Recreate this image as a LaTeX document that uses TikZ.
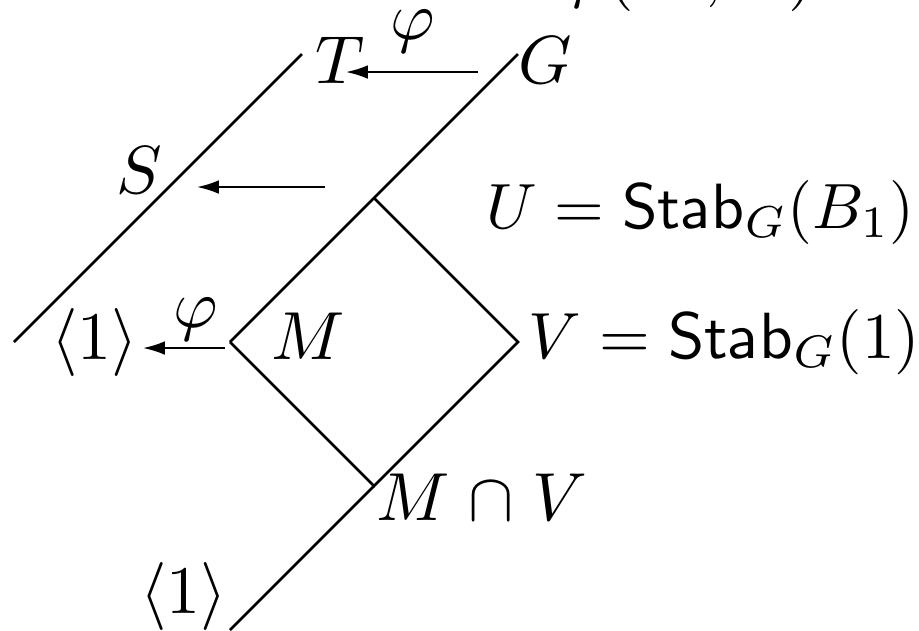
\documentclass[tikz,border=0pt]{standalone}
\usetikzlibrary{arrows.meta}
\begin{document}
\begin{tikzpicture}[x=0.147pt,y=-0.147pt,
  edge/.style={line width=0.4pt},
  maparrow/.style={line width=0.3pt,-{Latex[length=3.2pt,width=2pt]}},
  lbl/.style={inner sep=0pt,anchor=base west},
  philbl/.style={inner sep=0pt,anchor=base}]
\path[use as bounding box] (0,0) rectangle (919,630);
\clip (0,0) rectangle (919,630);
% vertices
\coordinate (Ltop) at (302,54);
\coordinate (Lbot) at (14,342);
\coordinate (Gtop) at (518,54);
\coordinate (Dtop) at (374,198);
\coordinate (Dleft) at (230,342);
\coordinate (Dright) at (518,342);
\coordinate (Dbot) at (374,486);
\coordinate (Bend) at (230,630);
\coordinate (a1s) at (478,72);
\coordinate (a1e) at (346,72);
\coordinate (a2s) at (325,187);
\coordinate (a2e) at (197,187);
\coordinate (a3s) at (225,348);
\coordinate (a3e) at (143,348);
% labels
\node[lbl] (top) at (562,-6) {$\varphi(M, U)$};
\node[lbl] (T) at (314,83) {$T$};
\node[lbl] (G) at (517,83) {$G$};
\node[philbl] (phi1) at (413,39) {$\varphi$};
\node[lbl] (S) at (115,193) {$S$};
\node[lbl] (U) at (485,228) {\scalebox{0.94}{$U = \mathsf{Stab}_G(B_1)$}};
\node[lbl] (one1) at (50,359) {$\langle 1\rangle$};
\node[philbl] (phi2) at (196,327) {$\varphi$};
\node[lbl] (M) at (270,359) {$M$};
\node[lbl] (V) at (527,358) {\scalebox{0.96}{$V = \mathsf{Stab}_G(1)$}};
\node[lbl] (MV) at (375,520) {$M\mathrel{\cap}V$};
\node[lbl] (one2) at (139,613) {$\langle 1\rangle$};
% lines
\draw[edge] (Lbot) -- (Ltop);
\draw[edge] (Gtop) -- (Dtop) -- (Dleft);
\draw[edge] (Dtop) -- (Dright) -- (Dbot) -- (Dleft);
\draw[edge] (Dbot) -- (Bend);
% arrows
\draw[maparrow] (a1s) -- (a1e);
\draw[maparrow] (a2s) -- (a2e);
\draw[maparrow] (a3s) -- (a3e);
\end{tikzpicture}
\end{document}
